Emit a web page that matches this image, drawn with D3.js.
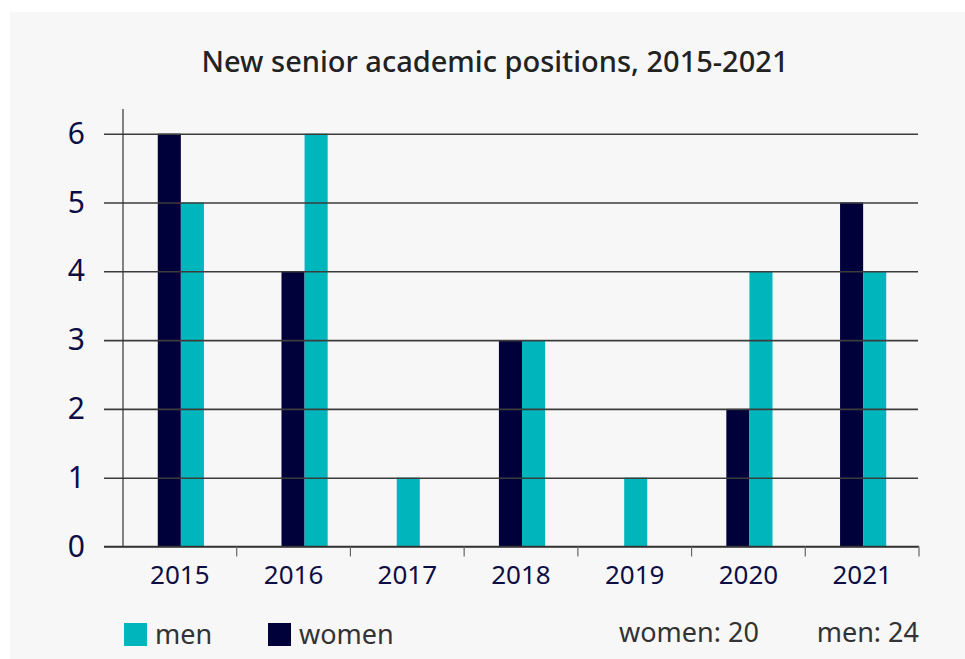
<!DOCTYPE html>
<html>
<head>
<meta charset="utf-8">
<script src="https://cdn.jsdelivr.net/npm/d3@7/dist/d3.min.js"></script>
<style>
  html, body { margin: 0; padding: 0; background: #ffffff; }
  svg { display: block; font-family: "Noto Sans", "Open Sans", sans-serif; }
</style>
</head>
<body>
<svg id="chart" width="965" height="659"></svg>
<script>
const years = ["2015", "2016", "2017", "2018", "2019", "2020", "2021"];
const women = [6, 4, null, 3, null, 2, 5];
const men = [5, 6, 1, 3, 1, 4, 4];
const yTicks = [0, 1, 2, 3, 4, 5, 6];
const seriesNames = ["women", "men"];
const title = "New senior academic positions, 2015-2021";

// styling / layout (not data)
const seriesColors = ["#00003a", "#00b6bd"];
const groupShift = { "2016": 10 };   // the reference draws the 2016 pair slightly off-centre

const totalWomen = d3.sum(women.filter(v => v != null));
const totalMen = d3.sum(men);

const svg = d3.select("#chart");

// panel background
svg.append("rect").attr("x", 10).attr("y", 12).attr("width", 955).attr("height", 647).attr("fill", "#f7f7f7");

// title
svg.append("text").attr("x", 495).attr("y", 72).attr("text-anchor", "middle")
  .attr("font-size", 29).attr("font-weight", 500).attr("fill", "#222222").text(title);

const x = d3.scaleBand().domain(years).range([123, 919]).padding(0);
const y = d3.scaleLinear().domain([0, 6]).range([546.5, 133.7]);
const barW = x.bandwidth() * 0.203;

// bars
const table = years.map((yr, i) => ({ year: yr, values: [women[i], men[i]] }));
const groups = svg.append("g").selectAll("g").data(table).join("g");
groups.each(function(d) {
  const present = d.values.map((v, k) => ({ v, k })).filter(o => o.v != null);
  const start = x(d.year) + x.bandwidth() / 2 + 1 + (groupShift[d.year] || 0) - present.length * barW / 2;
  d3.select(this).selectAll("rect").data(present).join("rect")
    .attr("x", (o, j) => start + j * barW)
    .attr("y", o => y(o.v))
    .attr("width", barW)
    .attr("height", o => y(0) - y(o.v))
    .attr("fill", o => seriesColors[o.k]);
});

// gridlines + y labels via axis
const yAxis = d3.axisLeft(y).tickValues(yTicks).tickSize(918 - 104).tickPadding(19).tickFormat(d3.format("d"));
const gy = svg.append("g").attr("transform", "translate(918,0)").call(yAxis);
gy.select(".domain").remove();
gy.selectAll(".tick line").attr("stroke", "#3c3c3c").attr("stroke-width", 1.6);
gy.selectAll(".tick text").attr("font-size", 30).attr("fill", "#0d0d45").attr("font-family", "Noto Sans, sans-serif");

// y axis line
svg.append("line").attr("x1", 123).attr("x2", 123).attr("y1", 109).attr("y2", y(0))
  .attr("stroke", "#333").attr("stroke-width", 1.2);

// x axis labels
const xAxis = d3.axisBottom(x).tickSize(0).tickPadding(19);
const gx = svg.append("g").attr("transform", `translate(0,${y(0)})`).call(xAxis);
gx.select(".domain").remove();
gx.selectAll(".tick text").attr("font-size", 26).attr("fill", "#0d0d45").attr("font-family", "Noto Sans, sans-serif");

// x axis line and boundary ticks
svg.append("line").attr("x1", 104).attr("x2", 919).attr("y1", y(0)).attr("y2", y(0))
  .attr("stroke", "#333").attr("stroke-width", 1.6);
svg.append("g").selectAll("line").data(years.slice(1).concat(["end"])).join("line")
  .attr("x1", (d, i) => i < years.length - 1 ? x(d) : x(years[years.length - 1]) + x.bandwidth())
  .attr("x2", (d, i) => i < years.length - 1 ? x(d) : x(years[years.length - 1]) + x.bandwidth())
  .attr("y1", y(0)).attr("y2", y(0) + 10)
  .attr("stroke", "#666").attr("stroke-width", 1.2);

// legend
const legendItems = [
  { name: "men", color: seriesColors[1], x: 124 },
  { name: "women", color: seriesColors[0], x: 268 }
];
const lg = svg.append("g").selectAll("g").data(legendItems).join("g")
  .attr("transform", d => `translate(${d.x},623)`);
lg.append("rect").attr("width", 23).attr("height", 23).attr("fill", d => d.color);
lg.append("text").attr("x", 31).attr("y", 21).attr("font-size", 27).attr("fill", "#333333").text(d => d.name);

// totals
svg.append("text").attr("x", 619).attr("y", 642).attr("font-size", 27).attr("fill", "#333333")
  .text(`women: ${totalWomen}`);
svg.append("text").attr("x", 919).attr("y", 642).attr("text-anchor", "end").attr("font-size", 27).attr("fill", "#333333")
  .text(`men: ${totalMen}`);
</script>
</body>
</html>
